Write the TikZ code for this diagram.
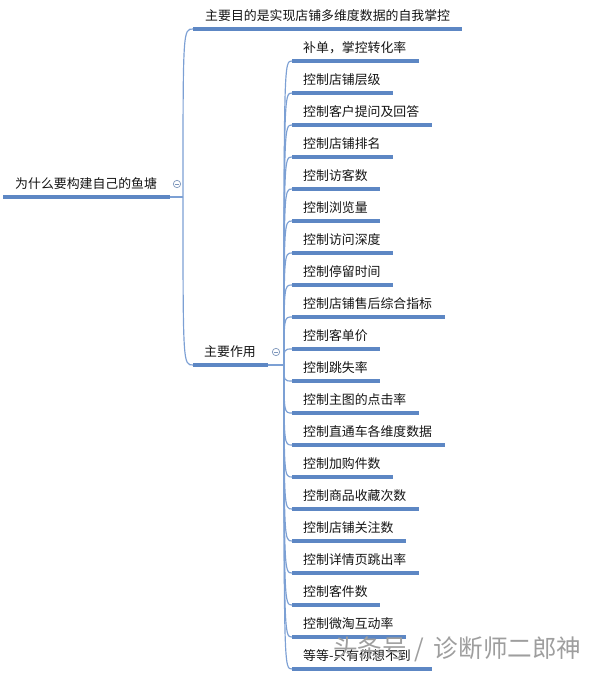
\documentclass[tikz,border=0pt]{standalone}
\usepackage{fontspec}
\setmainfont{Noto Sans CJK SC}
\usetikzlibrary{calc}
\definecolor{mapblue}{RGB}{93,135,196}
\definecolor{twigblue}{RGB}{124,160,212}
\tikzset{
  leaf/.style={anchor=west, inner sep=0pt, font=\fontsize{11}{13}\selectfont, text=black!92},
  underline/.style={draw=mapblue, line width=2.7pt},
  twig/.style={draw=twigblue, line width=1pt},
  fold/.style={circle, draw=twigblue!70!gray, fill=white, line width=0.6pt, minimum size=0.22cm, inner sep=0pt}
}
\def\leafitem[#1](#2:#3)#4{%
  \coordinate (#1-s) at (292,#2);
  \coordinate (#1-e) at (#3,#2);
  \node[leaf] (#1) at (303,#2-13) {#4};
  \draw[twig] (J2) .. controls (J2 |- #1-s) .. (#1-s);
  \draw[underline] (#1-s) -- (#1-e);
}

\begin{document}
\begin{tikzpicture}[x=0.03cm, y=-0.03cm]
	\useasboundingbox (0,0) rectangle (600,673);
	
	\coordinate (J1) at (183,197);
	\coordinate (J2) at (284,365);
	
	% root
	\node[leaf] (root) at (15,184) {为什么要构建自己的鱼塘};
	\coordinate (root-s) at (3,197);
	\coordinate (root-e) at (170,197);
	\draw[twig] (root-e) -- (J1);
	\draw[underline] (root-s) -- (root-e);
	\node[fold] (f1) at (177,184) {};
	\draw[draw=twigblue!70!gray, line width=0.6pt] ([xshift=-1.6pt]f1.center) -- ([xshift=1.6pt]f1.center);
	
	% first branch
	\node[leaf] (aim) at (205,16) {主要目的是实现店铺多维度数据的自我掌控};
	\coordinate (aim-s) at (193,29);
	\coordinate (aim-e) at (462,29);
	\draw[twig] (J1) .. controls (J1 |- aim-s) .. (aim-s);
	\draw[underline] (aim-s) -- (aim-e);
	
	% second branch
	\node[leaf] (use) at (204,352) {主要作用};
	\coordinate (use-s) at (193,365);
	\coordinate (use-e) at (268,365);
	\draw[twig] (J1) .. controls (J1 |- use-s) .. (use-s);
	\draw[twig] (use-e) -- (J2);
	\draw[underline] (use-s) -- (use-e);
	\node[fold] (f2) at (276,352) {};
	\draw[draw=twigblue!70!gray, line width=0.6pt] ([xshift=-1.6pt]f2.center) -- ([xshift=1.6pt]f2.center);
	
	\leafitem[c1](61:419){补单，掌控转化率}
	\leafitem[c2](93:393){控制店铺层级}
	\leafitem[c3](125:432){控制客户提问及回答}
	\leafitem[c4](157:393){控制店铺排名}
	\leafitem[c5](189:380){控制访客数}
	\leafitem[c6](221:380){控制浏览量}
	\leafitem[c7](253:393){控制访问深度}
	\leafitem[c8](285:393){控制停留时间}
	\leafitem[c9](317:445){控制店铺售后综合指标}
	\leafitem[c10](349:380){控制客单价}
	\leafitem[c11](381:380){控制跳失率}
	\leafitem[c12](413:419){控制主图的点击率}
	\leafitem[c13](445:445){控制直通车各维度数据}
	\leafitem[c14](477:393){控制加购件数}
	\leafitem[c15](509:419){控制商品收藏次数}
	\leafitem[c16](541:406){控制店铺关注数}
	\leafitem[c17](573:419){控制详情页跳出率}
	\leafitem[c18](605:380){控制客件数}
	\leafitem[c19](637:406){控制微淘互动率}
	\leafitem[c20](669:432){等等-只有你想不到}
	
	% watermark
	\node[anchor=west, inner sep=0pt, text=black!38, font=\fontsize{21}{24}\selectfont] (mark) at (333,649) {头条号\hspace{0.3em}/\hspace{0.4em}诊断师二郎神};
\end{tikzpicture}
\end{document}
